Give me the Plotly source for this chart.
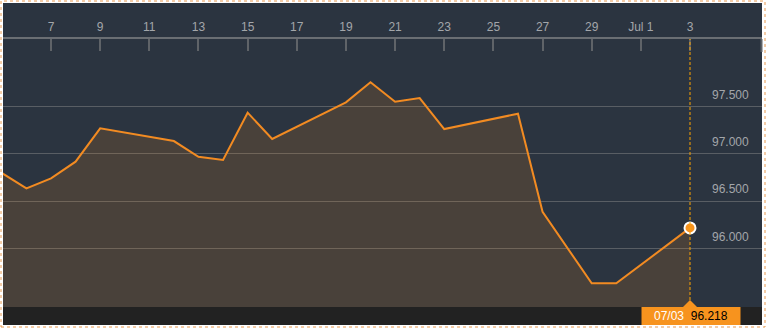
import plotly.graph_objects as go

dates = ["2017-06-05", "2017-06-06", "2017-06-07", "2017-06-08", "2017-06-09",
         "2017-06-12", "2017-06-13", "2017-06-14", "2017-06-15", "2017-06-16",
         "2017-06-19", "2017-06-20", "2017-06-21", "2017-06-22", "2017-06-23",
         "2017-06-26", "2017-06-27", "2017-06-29", "2017-06-30", "2017-07-03"]
values = [96.798, 96.636, 96.742, 96.918, 97.271,
          97.136, 96.970, 96.936, 97.436, 97.158,
          97.545, 97.757, 97.552, 97.591, 97.263,
          97.425, 96.389, 95.632, 95.632, 96.218]

tick_dates = ["2017-06-07", "2017-06-09", "2017-06-11", "2017-06-13", "2017-06-15",
              "2017-06-17", "2017-06-19", "2017-06-21", "2017-06-23", "2017-06-25",
              "2017-06-27", "2017-06-29", "2017-07-01", "2017-07-03"]
tick_labels = ["7", "9", "11", "13", "15", "17", "19", "21", "23", "25",
               "27", "29", "Jul 1", "3"]
y_ticks = [96.0, 96.5, 97.0, 97.5]
y_labels = ["96.000", "96.500", "97.000", "97.500"]

last_date = dates[-1]
last_value = values[-1]
last_label = "07/03"

W, H = 769, 329
def px(x): return x / W
def py(y): return 1 - y / H

BG = "#2b3440"
ORANGE = "#f28b22"

fig = go.Figure()
fig.add_trace(go.Scatter(
    x=dates, y=values, mode="lines",
    line=dict(color=ORANGE, width=2),
    fill="tozeroy", fillcolor="rgba(247,140,30,0.15)",
    hoverinfo="skip"))
fig.add_trace(go.Scatter(
    x=[last_date], y=[last_value], mode="markers",
    marker=dict(color="#f7931e", size=11, line=dict(color="white", width=2)),
    hoverinfo="skip"))

font = "Liberation Sans, Arial, sans-serif"
annotations = []
for v, t in zip(y_ticks, y_labels):
    annotations.append(dict(x=px(751), xref="paper", xanchor="right",
                            y=v, yref="y", yanchor="middle", yshift=12,
                            text=t, showarrow=False,
                            font=dict(family=font, size=12, color="#a3a6aa")))
annotations.append(dict(x=last_date, xref="x", xanchor="center", xshift=1,
                        y=py(316), yref="paper", yanchor="middle",
                        text=f'<span style="color:white">{last_label}</span>&nbsp;&nbsp;'
                             f'<span style="color:black">{last_value:.3f}</span>',
                        showarrow=False,
                        font=dict(family=font, size=12, color="white")))

shapes = [
    # outer dark chart background (top strip)
    dict(type="rect", xref="paper", yref="paper", x0=px(3), x1=px(762),
         y0=py(39), y1=py(3), fillcolor=BG, line=dict(width=0), layer="below"),
    # bottom dark band
    dict(type="rect", xref="paper", yref="paper", x0=px(3), x1=px(762),
         y0=py(325), y1=py(307), fillcolor="#222222", line=dict(width=0), layer="below"),
    # right end tick
    dict(type="line", xref="paper", yref="paper", x0=px(761.5), x1=px(761.5),
         y0=py(39), y1=py(52), line=dict(color="#5f6368", width=2)),
    # dashed vertical crosshair
    dict(type="line", xref="x", yref="paper", x0=last_date, x1=last_date,
         y0=py(300), y1=py(39), line=dict(color="#ffa500", width=1, dash="3px,2px")),
    # label box
    dict(type="rect", xref="x", xsizemode="pixel", xanchor=last_date,
         x0=-48.5, x1=50.5, yref="paper", y0=py(325), y1=py(307),
         fillcolor="#f7931e", line=dict(width=0)),
    dict(type="path", xref="x", xsizemode="pixel", xanchor=last_date,
         yref="paper",
         path=f"M -7,{py(307)} L 0,{py(300)} L 7,{py(307)} Z",
         fillcolor="#f7931e", line=dict(width=0)),
    # outer dotted border
    dict(type="rect", xref="paper", yref="paper", x0=px(1), x1=px(765),
         y0=py(327), y1=py(1), line=dict(color="#e89a50", width=1, dash="dot")),
]

fig.update_layout(
    width=W, height=H,
    margin=dict(l=0, r=0, t=0, b=0),
    paper_bgcolor="white", plot_bgcolor=BG,
    showlegend=False,
    xaxis=dict(domain=[px(3), px(762)], side="top",
               range=["2017-06-05 01:07", "2017-07-05 22:18"],
               tickvals=tick_dates, ticktext=tick_labels,
               ticks="inside", ticklen=12, tickwidth=2, tickcolor="#5f6368",
               showline=True, linecolor="#6a6e73", linewidth=2,
               showgrid=False, zeroline=False,
               ticklabelstandoff=1,
               tickfont=dict(family=font, size=12, color="#a3a6aa")),
    yaxis=dict(domain=[py(307), py(39)], range=[95.382, 98.215],
               tickvals=y_ticks, showticklabels=False,
               showgrid=True, gridcolor="#595e64", gridwidth=1,
               zeroline=False, showline=False, ticks=""),
    annotations=annotations,
    shapes=shapes,
)

fig.write_html("out.html")
